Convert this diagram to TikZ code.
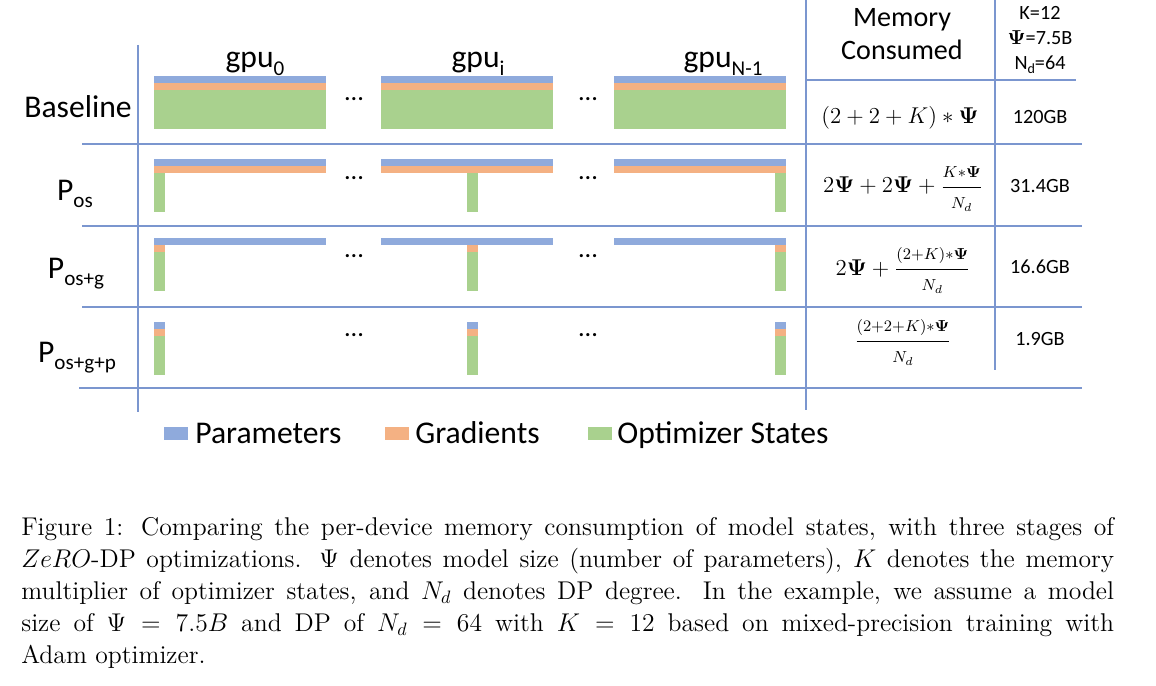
\RequirePackage{fix-cm}
\documentclass[tikz,border=0pt]{standalone}
\usepackage{bm,amsmath}
\usepackage{fontspec}
\usetikzlibrary{positioning}
\newfontfamily\carlito{Carlito}
\definecolor{parblue}{HTML}{8FAADC}
\definecolor{gradorange}{HTML}{F4B183}
\definecolor{optgreen}{HTML}{A9D18E}
\definecolor{gridblue}{HTML}{7B96CF}
\newcommand{\lowsub}[1]{\raisebox{-4pt}{\fontsize{12}{14}\selectfont #1}}
\newcommand{\capline}[1]{\makebox[21.86cm][s]{#1}}
\newcommand{\sfr}[2]{\dfrac{\scriptstyle #1}{\scriptstyle #2}}
\tikzset{
  gridline/.style={gridblue, line width=.6pt},
  rowlbl/.style={font=\carlito\fontsize{18}{21}\selectfont, inner sep=0pt, anchor=base},
  hdr/.style={font=\carlito\fontsize{16}{18}\selectfont, inner sep=0pt, anchor=base},
  cellnum/.style={font=\carlito\fontsize{11.5}{13}\selectfont, inner sep=0pt, anchor=base},
  formula/.style={font=\fontsize{13}{15}\selectfont, inner sep=0pt, anchor=base},
  gapdots/.style={font=\carlito\bfseries\fontsize{12}{14}\selectfont, inner sep=0pt, anchor=base},
  swatch/.style={inner sep=0pt, minimum width=.48cm, minimum height=.26cm},
  legtxt/.style={font=\carlito\fontsize{18}{21}\selectfont, inner sep=0pt, anchor=base west}
}

\begin{document}
\begin{tikzpicture}[x=0.02cm, y=-0.02cm]
\fill[white] (0,0) rectangle (1156,686);
\useasboundingbox (0,0) rectangle (1156,686);

\draw[gridline] (138,45) -- (138,412);
\draw[gridline] (806,0) -- (806,410);
\draw[gridline] (995,0) -- (995,370);
\draw[gridline] (807,80) -- (1076,80);
\foreach \y in {144,226,307} {
\draw[gridline] (82,\y) -- (1082,\y);
}
\draw[gridline] (79,388) -- (1082,388);

\foreach \c/\s in {154/0,381/86,614/161} {
\fill[parblue] (\c,76) rectangle ++(172,7);
\fill[gradorange] (\c,83) rectangle ++(172,7);
\fill[optgreen] (\c,90) rectangle ++(172,39);
\fill[parblue] (\c,159) rectangle ++(172,7);
\fill[gradorange] (\c,166) rectangle ++(172,7);
\fill[optgreen] (\c+\s,173) rectangle ++(11,39);
\fill[parblue] (\c,238) rectangle ++(172,7);
\fill[gradorange] (\c+\s,245) rectangle ++(11,7);
\fill[optgreen] (\c+\s,252) rectangle ++(11,39);
\fill[parblue] (\c+\s,322) rectangle ++(11,7);
\fill[gradorange] (\c+\s,329) rectangle ++(11,7);
\fill[optgreen] (\c+\s,336) rectangle ++(11,39);
}

\foreach \y [count=\r] in {101,179,257,336} {
\node[gapdots] (dl\r) at (354,\y) {.\kern.6pt.\kern.6pt.};
\node[gapdots] (dr\r) at (588,\y) {.\kern.6pt.\kern.6pt.};
}

\node[rowlbl] (gpu0) at (255,68) {gpu\lowsub{0}};
\node[rowlbl] (gpui) at (478,68) {gpu\lowsub{i}};
\node[rowlbl] (gpun) at (723,68) {gpu\lowsub{N-1}};

\node[rowlbl] (base) at (78,117) {Baseline};
\node[rowlbl] (pos) at (75,200) {P\lowsub{os}};
\node[rowlbl] (posg) at (76,278) {P\lowsub{os+g}};
\node[rowlbl] (posgp) at (77,362) {P\lowsub{os+g+p}};

\node[hdr] (memA) at (902,27) {Memory};
\node[hdr] (memB) at (902,60) {Consumed};
\node[cellnum] (kval) at (1040,20) {K=12};
\node[cellnum] (psival) at (1040,45) {$\bm{\Psi}$=7.5B};
\node[cellnum] (ndval) at (1040,70) {N\raisebox{-2pt}{\fontsize{8}{9}\selectfont d}=64};

\node[formula] (f1) at (900,124) {$(2+2+K)*\bm{\Psi}$};
\node[formula] (f2) at (903,193) {$2\bm{\Psi}+2\bm{\Psi}+\sfr{K*\bm{\Psi}}{N_d}$};
\node[formula] (f3) at (903,275) {$2\bm{\Psi}+\sfr{(2+K)*\bm{\Psi}}{N_d}$};
\node[formula] (f4) at (903,347) {$\sfr{(2+2+K)*\bm{\Psi}}{N_d}$};

\node[cellnum] (m1) at (1040,124) {120GB};
\node[cellnum] (m2) at (1040,193) {31.4GB};
\node[cellnum] (m3) at (1040,273) {16.6GB};
\node[cellnum] (m4) at (1040,345) {1.9GB};

\node[swatch, fill=parblue] (swP) at (176,433.5) {};
\node[swatch, fill=gradorange] (swG) at (397,433.5) {};
\node[swatch, fill=optgreen] (swO) at (600,433.5) {};
\node[legtxt] (txtP) at (195,443) {Parameters};
\node[legtxt] (txtG) at (415,443) {Gradients};
\node[legtxt] (txtO) at (617,443) {Optimizer States};

\node[anchor=north west, inner sep=0pt, align=left, font=\fontsize{14.6}{18.2}\selectfont] (caption) at (21,512.6) {%
\capline{\strut Figure 1: Comparing the per-device memory consumption of model states, with three stages of}\\
\capline{$ZeRO$-DP optimizations. $\Psi$ denotes model size (number of parameters), $K$ denotes the memory}\\
\capline{multiplier of optimizer states, and $N_d$ denotes DP degree. In the example, we assume a model}\\
\capline{size of $\Psi = 7.5B$ and DP of $N_d = 64$ with $K = 12$ based on mixed-precision training with}\\
Adam optimizer.};
\end{tikzpicture}
\end{document}
